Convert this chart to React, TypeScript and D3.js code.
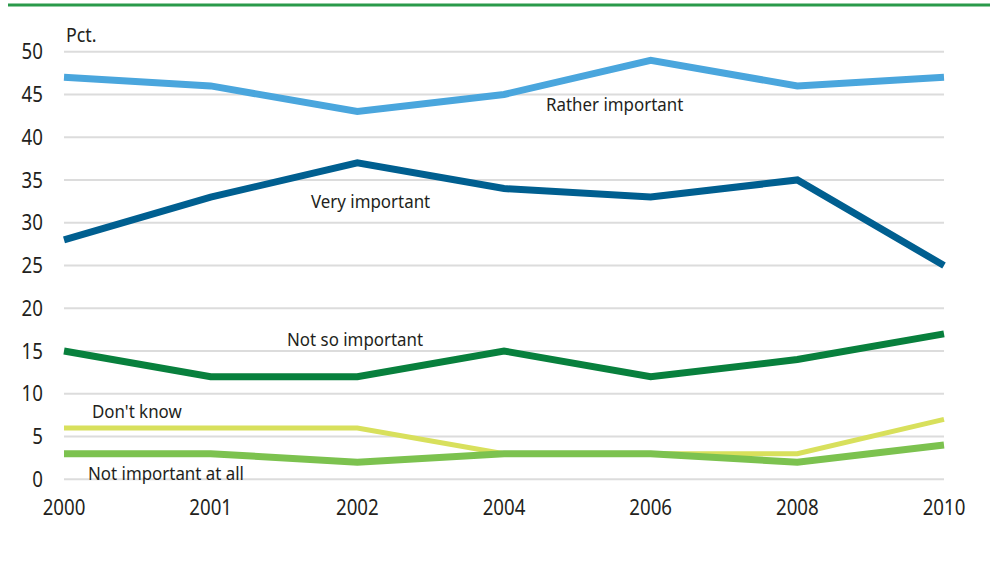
import React from "react";
import * as d3 from "d3";

const years = ["2000", "2001", "2002", "2004", "2006", "2008", "2010"];
const yTicks = [0, 5, 10, 15, 20, 25, 30, 35, 40, 45, 50];

const ratherImportant = [47, 46, 43, 45, 49, 46, 47];
const veryImportant = [28, 33, 37, 34, 33, 35, 25];
const notSoImportant = [15, 12, 12, 15, 12, 14, 17];
const dontKnow = [6, 6, 6, 3, 3, 3, 7];
const notImportantAtAll = [3, 3, 2, 3, 3, 2, 4];

const seriesNames = [
  "Rather important",
  "Very important",
  "Not so important",
  "Don't know",
  "Not important at all",
];

const W = 996;
const H = 562;
const FONT = "'Noto Sans', sans-serif";
const TEXT = "#231f20";
// horizontal squeeze to mimic a condensed typeface
const SQUEEZE = 0.89;

type LabelProps = {
  x: number;
  y: number;
  size: number;
  anchor?: "start" | "middle" | "end";
  dy?: string;
  children: React.ReactNode;
};

function Label({ x, y, size, anchor = "start", dy, children }: LabelProps) {
  return (
    <text
      transform={`translate(${x},${y}) scale(${SQUEEZE},1)`}
      dy={dy}
      textAnchor={anchor}
      fontFamily={FONT}
      fontSize={size}
      fill={TEXT}
    >
      {children}
    </text>
  );
}

export default function App() {
  const x = d3.scalePoint<string>().domain(years).range([64, 944]);
  const y = d3.scaleLinear().domain([0, 50]).range([479.3, 51.7]);

  const line = d3
    .line<number>()
    .x((_, i) => x(years[i]) as number)
    .y((d) => y(d));

  const series = [
    { name: seriesNames[0], values: ratherImportant, color: "#4aa6dd", width: 7, lx: 546, ly: 111 },
    { name: seriesNames[1], values: veryImportant, color: "#005f90", width: 7, lx: 311, ly: 208 },
    { name: seriesNames[2], values: notSoImportant, color: "#08803d", width: 7, lx: 287, ly: 346 },
    { name: seriesNames[3], values: dontKnow, color: "#d8e05c", width: 5, lx: 92, ly: 418 },
    { name: seriesNames[4], values: notImportantAtAll, color: "#7cc24f", width: 7, lx: 88, ly: 480 },
  ];

  return (
    <svg
      width={W}
      height={H}
      style={{ position: "absolute", left: 0, top: 0, background: "#fff" }}
    >
      <line x1={8} x2={990} y1={5} y2={5} stroke="#2a9a4a" strokeWidth={3} />

      {yTicks.map((t) => (
        <g key={t}>
          <line x1={64} x2={944} y1={y(t)} y2={y(t)} stroke="#dcdcdc" strokeWidth={2} />
          <Label x={43} y={y(t)} dy="0.36em" size={21} anchor="end">
            {t}
          </Label>
        </g>
      ))}

      <Label x={66} y={42} size={20}>
        Pct.
      </Label>

      {years.map((yr) => (
        <Label key={yr} x={x(yr) as number} y={515} size={21} anchor="middle">
          {yr}
        </Label>
      ))}

      {series.map((s) => (
        <path
          key={s.name}
          d={line(s.values) || ""}
          fill="none"
          stroke={s.color}
          strokeWidth={s.width}
          strokeLinejoin="miter"
        />
      ))}

      {series.map((s) => (
        <Label key={s.name + "-label"} x={s.lx} y={s.ly} size={19}>
          {s.name}
        </Label>
      ))}
    </svg>
  );
}
